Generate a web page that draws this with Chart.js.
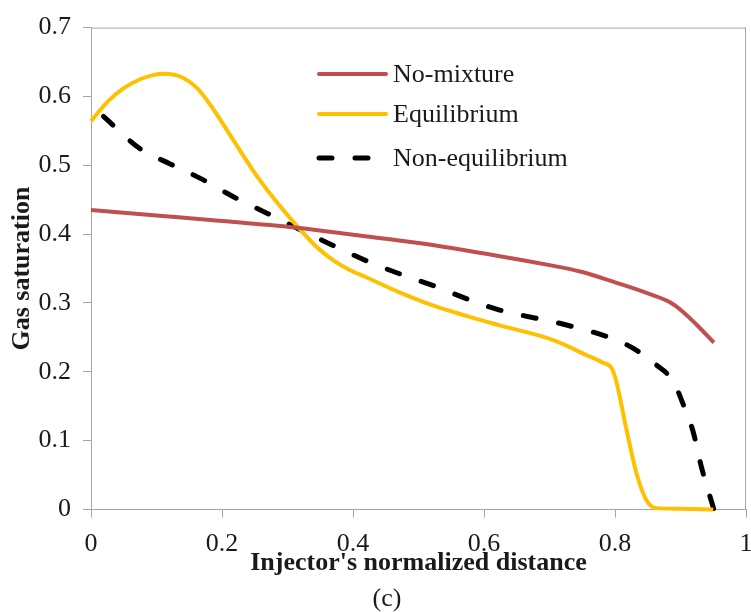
<!DOCTYPE html>
<html>
<head>
<meta charset="utf-8">
<script src="https://cdn.jsdelivr.net/npm/chart.js@4/dist/chart.umd.min.js"></script>
<style>
  body { margin: 0; background: #fff; overflow: hidden; }
</style>
</head>
<body>
<canvas id="grafico" width="751" height="612"></canvas>
<script>
// data
var xNoMix = [0, 0.1, 0.2, 0.319, 0.4, 0.5, 0.624, 0.7, 0.75, 0.8, 0.85, 0.884, 0.904, 0.925, 0.951];
var yNoMix = [0.435, 0.427, 0.419, 0.409, 0.399, 0.387, 0.368, 0.355, 0.345, 0.33, 0.314, 0.301, 0.287, 0.268, 0.2425];

var xEquil = [0, 0.025, 0.05, 0.075, 0.095, 0.111, 0.136, 0.162, 0.187, 0.213, 0.238, 0.258, 0.284, 0.319, 0.345, 0.37, 0.395, 0.421, 0.472, 0.523, 0.574, 0.624, 0.706, 0.757, 0.78, 0.795, 0.802, 0.818, 0.833, 0.848, 0.863, 0.9, 0.95];
var yEquil = [0.564, 0.592, 0.612, 0.625, 0.631, 0.633, 0.629, 0.612, 0.581, 0.543, 0.506, 0.478, 0.446, 0.407, 0.381, 0.362, 0.348, 0.337, 0.315, 0.296, 0.281, 0.2675, 0.246, 0.224, 0.214, 0.205, 0.186, 0.114, 0.052, 0.0136, 0.002, 0.001, 0];

var xNonEq = [0.019, 0.075, 0.121, 0.167, 0.218, 0.263, 0.314, 0.351, 0.421, 0.472, 0.523, 0.574, 0.619, 0.726, 0.797, 0.828, 0.863, 0.889, 0.904, 0.919, 0.932, 0.951];
var yNonEq = [0.571, 0.524, 0.502, 0.481, 0.454, 0.433, 0.409, 0.392, 0.361, 0.342, 0.325, 0.306, 0.291, 0.268, 0.248, 0.234, 0.21, 0.186, 0.153, 0.114, 0.0615, 0];

var nomes = ["No-mixture", "Equilibrium", "Non-equilibrium"];
var cores = ["#C0504D", "#FFC000", "#000000"];

function pontos(xs, ys) {
    var out = [];
    for (var i = 0; i < xs.length; i++) {
        out.push({ x: xs[i], y: ys[i] });
    }
    return out;
}

function rotulo(v) {
    return String(Math.round(v * 10) / 10);
}

var fonte = "'Liberation Serif', 'Times New Roman', serif";
var cinza = "#A6A6A6";
var texto = "#1a1a1a";

// moldura, legenda e "(c)"
var extras = {
    id: "extras",
    afterDraw: function (chart) {
        var ctx = chart.ctx;
        var a = chart.chartArea;
        ctx.save();
        ctx.strokeStyle = cinza;
        ctx.lineWidth = 1;
        ctx.beginPath();
        ctx.moveTo(a.left, a.top + 0.5);
        ctx.lineTo(a.right, a.top + 0.5);
        ctx.moveTo(a.right - 0.5, a.top);
        ctx.lineTo(a.right - 0.5, a.bottom);
        ctx.stroke();

        var linhasY = [74, 114, 158];
        ctx.font = "26px " + fonte;
        ctx.textBaseline = "middle";
        ctx.fillStyle = texto;
        for (var i = 0; i < nomes.length; i++) {
            var ds = chart.data.datasets[i];
            ctx.strokeStyle = ds.borderColor;
            ctx.lineWidth = ds.borderWidth;
            ctx.lineCap = "round";
            ctx.setLineDash(ds.borderDash || []);
            ctx.beginPath();
            ctx.moveTo(319, linhasY[i]);
            ctx.lineTo(386, linhasY[i]);
            ctx.stroke();
            ctx.fillText(nomes[i], 393, linhasY[i] + 1);
        }
        ctx.setLineDash([]);
        ctx.textAlign = "center";
        ctx.fillText("(c)", 387, 599);
        ctx.restore();
    }
};

const ctx1 = document.getElementById("grafico");

new Chart(ctx1, {
    type: "line",
    data: {
        datasets: [{
            label: nomes[0],
            data: pontos(xNoMix, yNoMix),
            borderColor: cores[0],
            borderWidth: 4,
            pointRadius: 0,
            cubicInterpolationMode: "monotone",
            clip: 10
        }, {
            label: nomes[1],
            data: pontos(xEquil, yEquil),
            borderColor: cores[1],
            borderWidth: 4,
            pointRadius: 0,
            cubicInterpolationMode: "monotone",
            clip: 10
        }, {
            label: nomes[2],
            data: pontos(xNonEq, yNonEq),
            borderColor: cores[2],
            borderWidth: 5,
            borderDash: [13, 23],
            borderCapStyle: "round",
            pointRadius: 0,
            cubicInterpolationMode: "monotone",
            clip: 10
        }]
    },
    options: {
        responsive: false,
        animation: false,
        devicePixelRatio: 1,
        layout: { padding: { top: 22, right: 5, left: 0, bottom: 0 } },
        plugins: {
            legend: { display: false },
            tooltip: { enabled: false }
        },
        scales: {
            x: {
                type: "linear",
                min: 0,
                max: 1,
                ticks: {
                    stepSize: 0.2,
                    color: texto,
                    font: { family: fonte, size: 26 },
                    padding: 11,
                    maxRotation: 0,
                    callback: rotulo
                },
                grid: { drawOnChartArea: false, tickLength: 8, color: cinza },
                border: { color: cinza },
                title: {
                    display: true,
                    text: "Injector's normalized distance",
                    color: texto,
                    font: { family: fonte, size: 26, weight: "bold" },
                    padding: { top: 0, bottom: 33 }
                },
                afterFit: function (scale) {
                    scale.height = 102.5;
                    scale.paddingRight = 0;
                    scale.paddingLeft = 0;
                }
            },
            y: {
                min: 0,
                max: 0.7,
                ticks: {
                    stepSize: 0.1,
                    color: texto,
                    font: { family: fonte, size: 26 },
                    padding: 12,
                    callback: rotulo
                },
                grid: { drawOnChartArea: false, tickLength: 8, color: cinza },
                border: { color: cinza },
                title: {
                    display: true,
                    text: "Gas saturation",
                    color: texto,
                    font: { family: fonte, size: 26, weight: "bold" },
                    padding: { top: 7, bottom: 0 }
                },
                afterFit: function (scale) {
                    scale.width = 91;
                }
            }
        }
    },
    plugins: [extras]
});
</script>
</body>
</html>
